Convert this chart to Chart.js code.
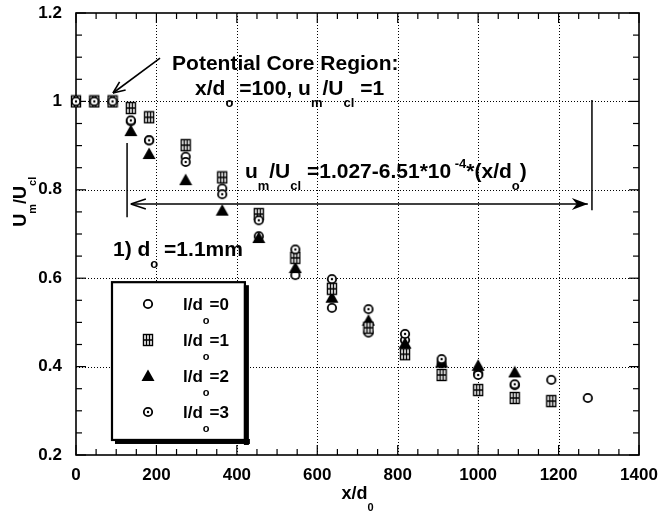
<!DOCTYPE html>
<html>
<head>
<meta charset="utf-8">
<script src="https://cdn.jsdelivr.net/npm/chart.js@4.4.1/dist/chart.umd.min.js"></script>
<style>
  html, body { margin: 0; padding: 0; background: #fff; }
  #wrap { width: 659px; height: 515px; }
</style>
</head>
<body>
<div id="wrap"><canvas id="grafico" width="659" height="515"></canvas></div>
<script>
// Posições x/d0 das medições (50 mm / 1.1 mm)
const xd = [0, 45.5, 90.9, 136.4, 181.8, 272.7, 363.6, 454.5, 545.5, 636.4, 727.3, 818.2, 909.1, 1000, 1090.9, 1181.8, 1272.7];

// um/Ucl, uma lista por l/d0
const ld0 = [1, 1, 1, 0.955, 0.912, 0.875, 0.803, 0.695, 0.607, 0.533, 0.477, 0.46, 0.408, 0.385, 0.358, 0.370, 0.329];
const ld1 = [1, 1, 1, 0.985, 0.964, 0.901, 0.828, 0.745, 0.646, 0.576, 0.488, 0.428, 0.381, 0.347, 0.329, 0.322];
const ld2 = [null, null, null, 0.934, 0.882, 0.823, 0.754, 0.692, 0.624, 0.557, 0.505, 0.453, 0.41, 0.403, 0.388];
const ld3 = [1, 1, 1, 0.957, 0.912, 0.863, 0.79, 0.731, 0.665, 0.598, 0.53, 0.474, 0.417, 0.381, 0.36];

const rotulosSerie = ['0', '1', '2', '3'];

const xTicks = [0, 200, 400, 600, 800, 1000, 1200, 1400];
const xTickLabels = ['0', '200', '400', '600', '800', '1000', '1200', '1400'];
const yTicks = [0.2, 0.4, 0.6, 0.8, 1.0, 1.2];
const yTickLabels = ['0.2', '0.4', '0.6', '0.8', '1', '1.2'];

const FONTE = '"Liberation Sans", Arial, Helvetica, sans-serif';

function pontos(ys) {
    return ys.map((y, i) => (y === null ? null : { x: xd[i], y: y })).filter(p => p);
}

// Símbolos desenhados num canvas pequeno (usados como pointStyle)
function criarMarca(w, h, desenho) {
    const c = document.createElement('canvas');
    c.width = w;
    c.height = h;
    desenho(c.getContext('2d'));
    return c;
}

const marcaCirculo = criarMarca(12, 12, g => {
    g.fillStyle = '#fff';
    g.strokeStyle = '#000';
    g.lineWidth = 1.8;
    g.beginPath();
    g.arc(6, 6, 4.2, 0, Math.PI * 2);
    g.fill();
    g.stroke();
});

const marcaGrade = criarMarca(12, 14, g => {
    g.fillStyle = '#fff';
    g.fillRect(1, 1, 10, 12);
    g.strokeStyle = '#000';
    g.lineWidth = 1.4;
    g.strokeRect(1.5, 1.5, 9, 11);
    g.beginPath();
    g.moveTo(4.5, 1.5); g.lineTo(4.5, 12.5);
    g.moveTo(7.5, 1.5); g.lineTo(7.5, 12.5);
    g.moveTo(1.5, 7); g.lineTo(10.5, 7);
    g.stroke();
});

const marcaTriangulo = criarMarca(14, 13, g => {
    g.fillStyle = '#000';
    g.beginPath();
    g.moveTo(7, 0.5);
    g.lineTo(13.5, 12);
    g.lineTo(0.5, 12);
    g.closePath();
    g.fill();
});

const marcaPonto = criarMarca(12, 12, g => {
    g.fillStyle = '#fff';
    g.strokeStyle = '#000';
    g.lineWidth = 1.8;
    g.beginPath();
    g.arc(6, 6, 4.2, 0, Math.PI * 2);
    g.fill();
    g.stroke();
    g.fillStyle = '#000';
    g.beginPath();
    g.arc(6, 6, 1.2, 0, Math.PI * 2);
    g.fill();
});

const marcas = [marcaCirculo, marcaGrade, marcaTriangulo, marcaPonto];

// Texto com subscritos/sobrescritos: partes = [[texto, 'n'|'sub'|'sup'], ...]
function larguraRica(ctx, partes, tam, tamPeq) {
    let w = 0;
    partes.forEach(p => {
        ctx.font = 'bold ' + (p[1] === 'n' ? tam : tamPeq) + 'px ' + FONTE;
        w += ctx.measureText(p[0]).width;
    });
    return w;
}

function textoRico(ctx, x, y, partes, tam, tamPeq, desce, sobe) {
    let cx = x;
    partes.forEach(p => {
        ctx.font = 'bold ' + (p[1] === 'n' ? tam : tamPeq) + 'px ' + FONTE;
        let dy = 0;
        if (p[1] === 'sub') dy = desce;
        if (p[1] === 'sup') dy = -sobe;
        ctx.fillText(p[0], cx, y + dy);
        cx += ctx.measureText(p[0]).width;
    });
    return cx;
}

function linha(ctx, x1, y1, x2, y2) {
    ctx.beginPath();
    ctx.moveTo(x1, y1);
    ctx.lineTo(x2, y2);
    ctx.stroke();
}

const pluginDesenho = {
    id: 'desenho',
    beforeDraw(chart) {
        const ctx = chart.ctx;
        ctx.save();
        ctx.fillStyle = '#fff';
        ctx.fillRect(0, 0, chart.width, chart.height);
        ctx.restore();
    },
    beforeDatasetsDraw(chart) {
        const ctx = chart.ctx;
        const a = chart.chartArea;
        const sx = chart.scales.x, sy = chart.scales.y;
        ctx.save();
        ctx.strokeStyle = '#000';

        // grade pontilhada nas divisões principais
        ctx.lineWidth = 1;
        ctx.setLineDash([1, 2]);
        xTicks.slice(1, -1).forEach(v => {
            const px = Math.round(sx.getPixelForValue(v)) + 0.5;
            linha(ctx, px, a.top, px, a.bottom);
        });
        yTicks.slice(1, -1).forEach(v => {
            const py = Math.round(sy.getPixelForValue(v)) + 0.5;
            linha(ctx, a.left, py, a.right, py);
        });
        ctx.setLineDash([]);

        // marcas para dentro nos quatro lados
        ctx.lineWidth = 1.2;
        for (let v = 0; v <= 1400; v += 50) {
            const px = sx.getPixelForValue(v);
            const t = v % 200 === 0 ? 10 : 6;
            linha(ctx, px, a.bottom, px, a.bottom - t);
            linha(ctx, px, a.top, px, a.top + t);
        }
        for (let k = 0; k <= 20; k++) {
            const v = 0.2 + k * 0.05;
            const py = sy.getPixelForValue(v);
            const t = k % 4 === 0 ? 10 : 6;
            linha(ctx, a.left, py, a.left + t, py);
            linha(ctx, a.right, py, a.right - t, py);
        }

        // moldura
        ctx.lineWidth = 1.6;
        ctx.strokeRect(a.left, a.top, a.right - a.left, a.bottom - a.top);
        ctx.restore();
    },
    afterDatasetsDraw(chart) {
        const ctx = chart.ctx;
        const a = chart.chartArea;
        const sx = chart.scales.x, sy = chart.scales.y;
        const X = v => sx.getPixelForValue(v);
        const Y = v => sy.getPixelForValue(v);
        ctx.save();
        ctx.fillStyle = '#000';
        ctx.strokeStyle = '#000';
        ctx.textBaseline = 'alphabetic';
        ctx.textAlign = 'left';

        // Região de núcleo potencial
        ctx.font = 'bold 21px ' + FONTE;
        ctx.fillText('Potential Core Region:', X(239), Y(1.071));
        textoRico(ctx, X(296), Y(1.014), [
            ['x/d', 'n'], ['o', 'sub'], [' =100, u', 'n'], ['m', 'sub'], ['/U', 'n'], ['cl', 'sub'], [' =1', 'n']
        ], 21, 13, 12, 0);

        // seta até o fim do núcleo
        ctx.lineWidth = 1.6;
        const ax1 = X(209), ay1 = Y(1.098), ax2 = X(92), ay2 = Y(1.019);
        linha(ctx, ax1, ay1, ax2, ay2);
        const ang = Math.atan2(ay2 - ay1, ax2 - ax1);
        [-0.4, 0.4].forEach(d => {
            linha(ctx, ax2, ay2, ax2 - 13 * Math.cos(ang + d), ay2 - 13 * Math.sin(ang + d));
        });

        // equação do ajuste linear
        textoRico(ctx, X(420), Y(0.827), [
            ['u', 'n'], ['m', 'sub'], ['/U', 'n'], ['cl', 'sub'], [' =1.027-6.51*10', 'n'], [' -4', 'sup'], ['*(x/d', 'n'], ['o', 'sub'], [')', 'n']
        ], 21, 13, 12, 10);

        // faixa de validade com seta dupla
        ctx.lineWidth = 1.5;
        const fy = Y(0.768), fx1 = X(136.4), fx2 = X(1272.7);
        linha(ctx, fx1, fy, fx2, fy);
        linha(ctx, fx1, fy, fx1 + 15, fy - 5);
        linha(ctx, fx1, fy, fx1 + 15, fy + 5);
        ctx.beginPath();
        ctx.moveTo(fx2, fy);
        ctx.lineTo(fx2 - 16, fy - 6);
        ctx.lineTo(fx2 - 11, fy);
        ctx.lineTo(fx2 - 16, fy + 6);
        ctx.closePath();
        ctx.fill();
        linha(ctx, X(127), Y(0.906), X(127), Y(0.738));
        linha(ctx, X(1283), Y(1.003), X(1283), Y(0.754));

        // diâmetro do bocal
        textoRico(ctx, X(92), Y(0.650), [['1) d', 'n'], ['o', 'sub'], [' =1.1mm', 'n']], 21, 13, 12, 0);

        // legenda com caixa
        const lx1 = X(89.5), lx2 = X(420), ly1 = Y(0.591), ly2 = Y(0.234);
        ctx.fillStyle = '#fff';
        ctx.fillRect(lx1, ly1, lx2 - lx1, ly2 - ly1);
        ctx.fillStyle = '#000';
        ctx.lineWidth = 2.2;
        ctx.strokeRect(lx1, ly1, lx2 - lx1, ly2 - ly1);
        ctx.fillRect(lx2 - 1, ly1 + 3, 5, ly2 - ly1 + 2);
        ctx.fillRect(lx1 + 3, ly2 - 1, lx2 - lx1 + 2, 5);
        const linhasLeg = [0.542, 0.461, 0.379, 0.297];
        linhasLeg.forEach((v, i) => {
            const cy = Y(v);
            const m = marcas[i];
            ctx.drawImage(m, Math.round(X(179) - m.width / 2), Math.round(cy - m.height / 2));
            textoRico(ctx, X(266), cy + 6, [['l/d', 'n'], ['o', 'sub'], ['=' + rotulosSerie[i], 'n']], 17, 11, 14, 0);
        });

        // títulos dos eixos
        ctx.save();
        const partesY = [['U', 'n'], ['m', 'sub'], ['/U', 'n'], ['cl', 'sub']];
        const wy = larguraRica(ctx, partesY, 18, 11);
        ctx.translate(20, Y(0.773));
        ctx.rotate(-Math.PI / 2);
        textoRico(ctx, -wy / 2, 6, partesY, 18, 11, 10, 0);
        ctx.restore();

        const partesX = [['x/d', 'n'], ['0', 'sub']];
        const wx = larguraRica(ctx, partesX, 18, 11);
        textoRico(ctx, (a.left + a.right) / 2 - wx / 2, 499, partesX, 18, 11, 12, 0);

        ctx.restore();
    }
};

const conjuntos = [ld0, ld1, ld2, ld3].map((serie, i) => ({
    label: 'l/d0=' + rotulosSerie[i],
    data: pontos(serie),
    pointStyle: marcas[i],
    pointRadius: 5,
    showLine: false,
    clip: false,
    order: [3, 1, 2, 0][i]
}));

const grafico = new Chart(document.getElementById('grafico'), {
    type: 'scatter',
    data: { datasets: conjuntos },
    options: {
        responsive: false,
        animation: false,
        devicePixelRatio: 1,
        layout: { padding: { top: 13, right: 20, bottom: 0, left: 0 } },
        plugins: {
            legend: { display: false },
            tooltip: { enabled: false }
        },
        scales: {
            x: {
                type: 'linear',
                min: 0,
                max: 1400,
                grid: { display: false, drawTicks: false },
                border: { display: false },
                afterBuildTicks: s => { s.ticks = xTicks.map(v => ({ value: v })); },
                afterFit: s => {
                    s.height = 60;
                    s.paddingLeft = 0;
                    s.paddingRight = 0;
                },
                ticks: {
                    padding: 10,
                    color: '#000',
                    font: { family: FONTE, size: 17, weight: 'bold' },
                    maxRotation: 0,
                    callback: v => xTickLabels[xTicks.indexOf(v)]
                }
            },
            y: {
                type: 'linear',
                min: 0.2,
                max: 1.2,
                grid: { display: false, drawTicks: false },
                border: { display: false },
                afterBuildTicks: s => { s.ticks = yTicks.map(v => ({ value: v })); },
                afterFit: s => {
                    s.width = 76;
                    s.paddingTop = 0;
                    s.paddingBottom = 0;
                },
                ticks: {
                    padding: 14,
                    color: '#000',
                    font: { family: FONTE, size: 17, weight: 'bold' },
                    callback: v => {
                        const i = yTicks.findIndex(t => Math.abs(t - v) < 1e-6);
                        return i >= 0 ? yTickLabels[i] : '';
                    }
                }
            }
        }
    },
    plugins: [pluginDesenho]
});
</script>
</body>
</html>
